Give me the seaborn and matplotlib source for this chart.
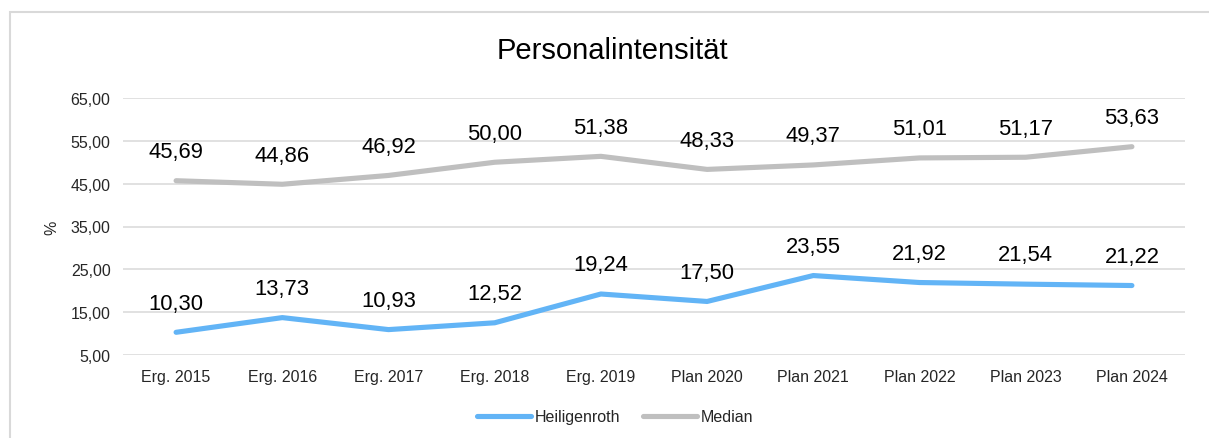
import matplotlib
matplotlib.use("Agg")
import matplotlib.pyplot as plt
import seaborn as sns
import pandas as pd
from matplotlib.patches import Rectangle
from matplotlib.lines import Line2D

categories = ["Erg. 2015", "Erg. 2016", "Erg. 2017", "Erg. 2018", "Erg. 2019",
              "Plan 2020", "Plan 2021", "Plan 2022", "Plan 2023", "Plan 2024"]
heiligenroth = [10.30, 13.73, 10.93, 12.52, 19.24, 17.50, 23.55, 21.92, 21.54, 21.22]
median = [45.69, 44.86, 46.92, 50.00, 51.38, 48.33, 49.37, 51.01, 51.17, 53.63]
series_names = ["Heiligenroth", "Median"]
yticks = [5, 15, 25, 35, 45, 55, 65]
title = "Personalintensität"

colors = {"Heiligenroth": "#62B4F6", "Median": "#BFBFBF"}

sns.set_theme(style="white")
plt.rcParams["font.family"] = ["Liberation Sans", "DejaVu Sans"]

df = pd.DataFrame({
    "x": list(range(len(categories))) * 2,
    "value": heiligenroth + median,
    "series": [series_names[0]] * len(categories) + [series_names[1]] * len(categories),
})

fig = plt.figure(figsize=(12.09, 4.39), dpi=100)
ax = fig.add_axes([123 / 1209, 1 - 356 / 439, (1185 - 123) / 1209, (356 - 99) / 439])

sns.lineplot(data=df, x="x", y="value", hue="series", palette=colors,
             linewidth=3.7, ax=ax, legend=False, sort=False)
for line in ax.lines:
    line.set_solid_capstyle("round")
    line.set_solid_joinstyle("round")

ax.set_xlim(-0.5, len(categories) - 0.5)
ax.set_ylim(5, 65)
ax.set_yticks(yticks)
ax.set_yticklabels([f"{v:.2f}".replace(".", ",") for v in yticks], fontsize=11.5, color="#262626")
ax.set_xticks(range(len(categories)))
ax.set_xticklabels(categories, fontsize=11.5, color="#262626")
ax.tick_params(axis="y", length=0, pad=9)
ax.tick_params(axis="x", length=0, pad=10)
ax.set_xlabel("")
ax.set_ylabel("")
ax.yaxis.grid(True, color="#D9D9D9", linewidth=1.1)
ax.xaxis.grid(False)
for s in ax.spines.values():
    s.set_visible(False)
ax.set_axisbelow(True)

for vals in (heiligenroth, median):
    for i, v in enumerate(vals):
        ax.annotate(f"{v:.2f}".replace(".", ","), (i, v), xytext=(0, 21),
                    textcoords="offset points", ha="center", va="center",
                    fontsize=15.8, color="#000000")

fig.text(612 / 1209, 1 - 51 / 439, title, ha="center", va="center", fontsize=21, color="#000000")
fig.text(52 / 1209, 1 - 228 / 439, "%", rotation=90, ha="center", va="center",
         fontsize=11.5, color="#262626")

handles = [Line2D([0], [0], color=colors[n], lw=3.7, solid_capstyle="round") for n in series_names]
fig.legend(handles, series_names, loc="center", bbox_to_anchor=(615 / 1209, 1 - 418 / 439),
           ncol=2, frameon=False, fontsize=11.5, handlelength=3.4, handletextpad=0.25,
           columnspacing=1.4, labelcolor="#262626")

fig.patches.append(Rectangle((9.5 / 1209, -0.1), 1.2, (439 - 12.5) / 439 + 0.1,
                             transform=fig.transFigure, fill=False,
                             edgecolor="#D9D9D9", linewidth=1.5))

fig.savefig("out.png", dpi=100, facecolor="white")
